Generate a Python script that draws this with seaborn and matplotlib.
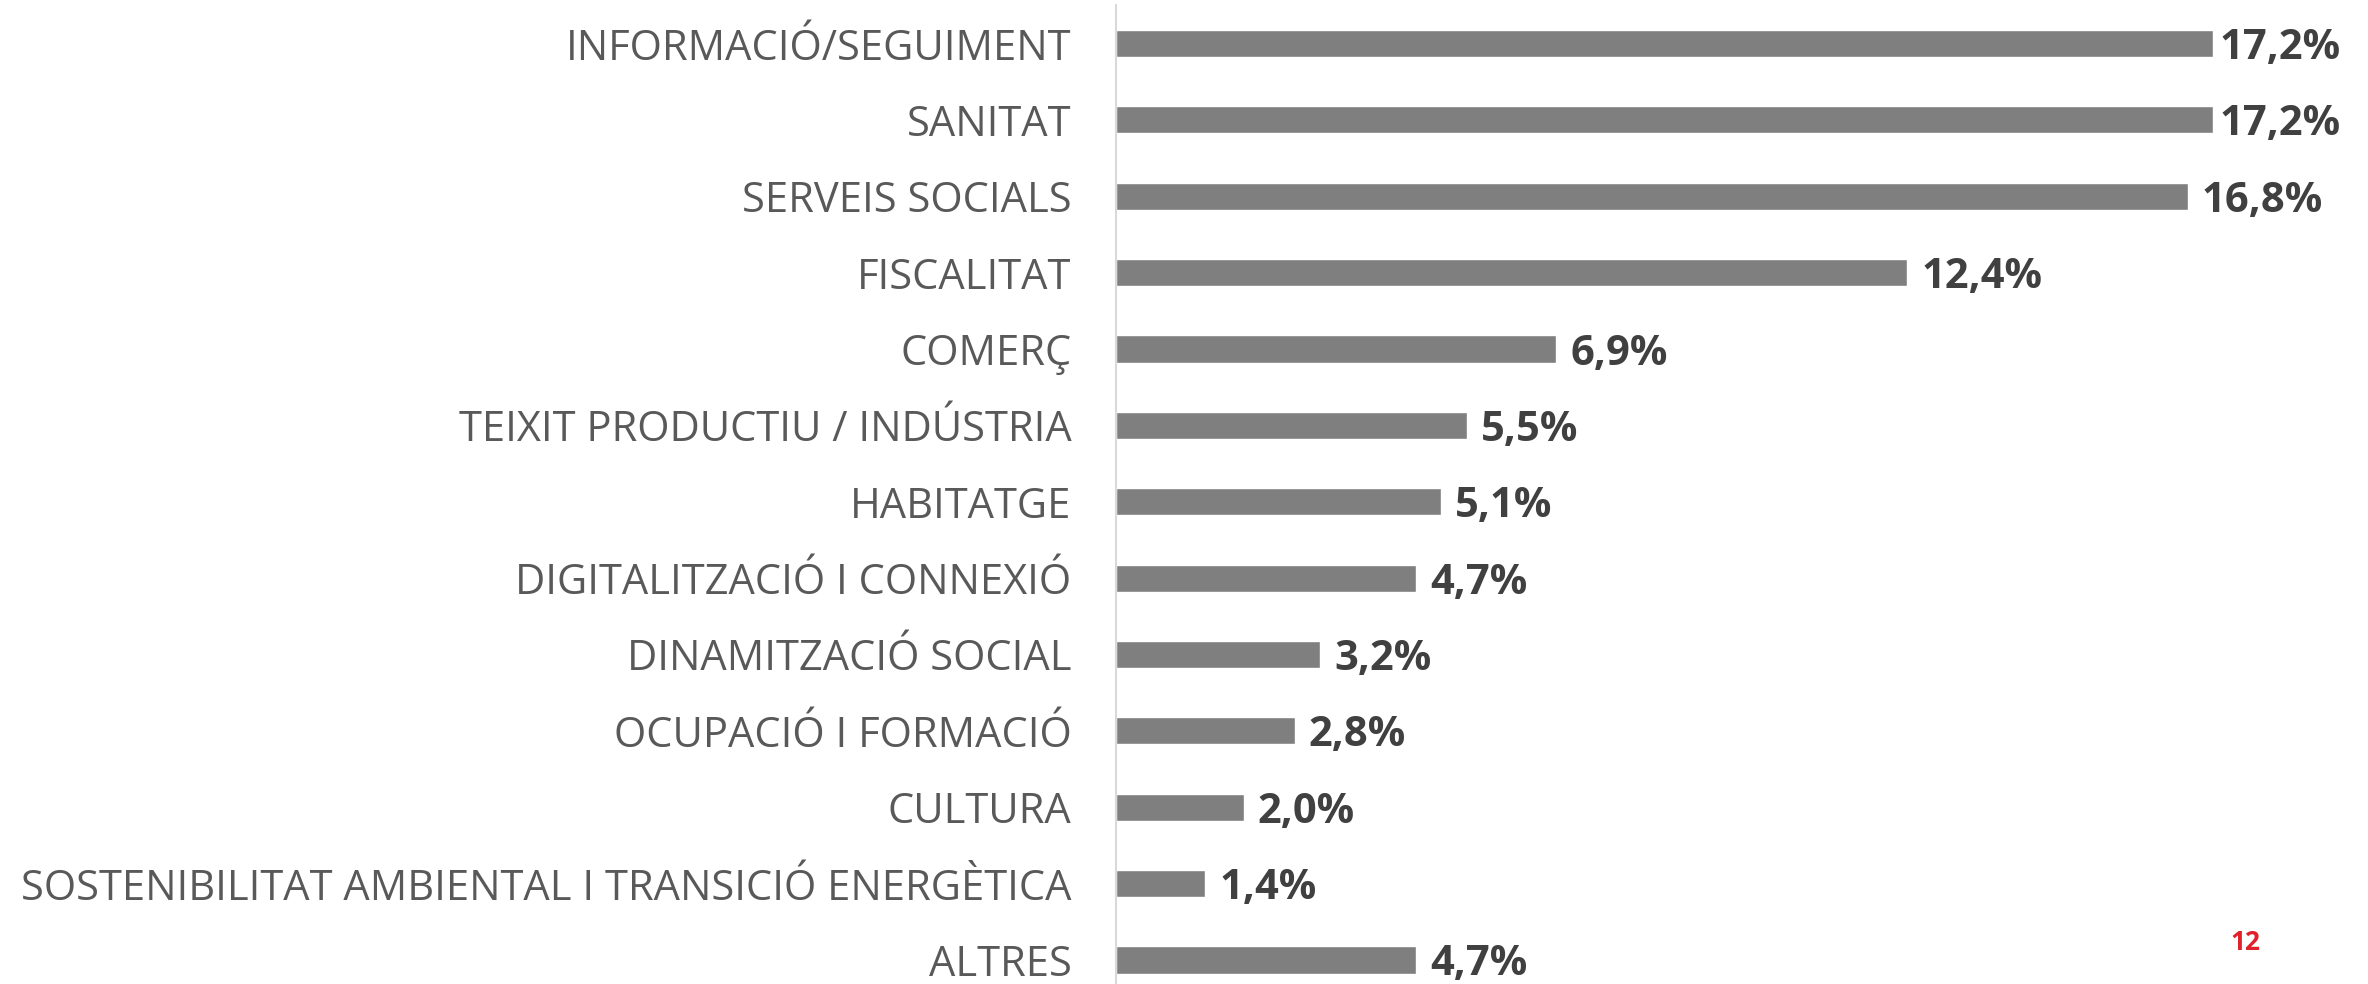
import matplotlib
matplotlib.use("Agg")
import matplotlib.pyplot as plt
import seaborn as sns
import pandas as pd

categories = [
    "INFORMACIÓ/SEGUIMENT",
    "SANITAT",
    "SERVEIS SOCIALS",
    "FISCALITAT",
    "COMERÇ",
    "TEIXIT PRODUCTIU / INDÚSTRIA",
    "HABITATGE",
    "DIGITALITZACIÓ I CONNEXIÓ",
    "DINAMITZACIÓ SOCIAL",
    "OCUPACIÓ I FORMACIÓ",
    "CULTURA",
    "SOSTENIBILITAT AMBIENTAL I TRANSICIÓ ENERGÈTICA",
    "ALTRES",
]
values = [17.2, 17.2, 16.8, 12.4, 6.9, 5.5, 5.1, 4.7, 3.2, 2.8, 2.0, 1.4, 4.7]
page_number = "12"

sns.set_theme(style="white")
plt.rcParams["font.family"] = ["Open Sans", "DejaVu Sans"]

df = pd.DataFrame({"cat": categories, "val": values})

W, H = 2368, 984
fig = plt.figure(figsize=(W / 100, H / 100), dpi=100)
ax_left = 1116 / W
px_per_unit_x = 63.8
xmax = 19.5
ax_width = xmax * px_per_unit_x / W
top_px = 5
ax = fig.add_axes([ax_left, 0, ax_width, 1 - top_px / H])

sns.barplot(data=df, x="val", y="cat", orient="h", color="#7f7f7f",
            width=0.355, saturation=1, ax=ax)

spacing = 76.375
first_center = 43.5
top_val = -(first_center - top_px) / spacing
bottom_val = top_val + (H - top_px) / spacing
ax.set_xlim(0, xmax)
ax.set_ylim(bottom_val, top_val)

for s in ["top", "right", "bottom"]:
    ax.spines[s].set_visible(False)
ax.spines["left"].set_color("#d9d9d9")
ax.spines["left"].set_linewidth(1.5)
ax.set_xticks([])
ax.set_xlabel("")
ax.set_ylabel("")
ax.tick_params(axis="y", length=0, pad=32, labelsize=30, labelcolor="#595959")

label_pad = 0.22
label_xmax = 17.3
for i, v in enumerate(values):
    ax.text(min(v + label_pad, label_xmax), i, f"{v:.1f}".replace(".", ",") + "%",
            va="center_baseline", ha="left", fontsize=30, fontweight="bold",
            color="#404040")

fig.text(2245 / W, 1 - 942 / H, page_number, ha="center", va="center",
         fontsize=19, fontweight="bold", color="#e0202a")

fig.savefig("out.png", dpi=100)
